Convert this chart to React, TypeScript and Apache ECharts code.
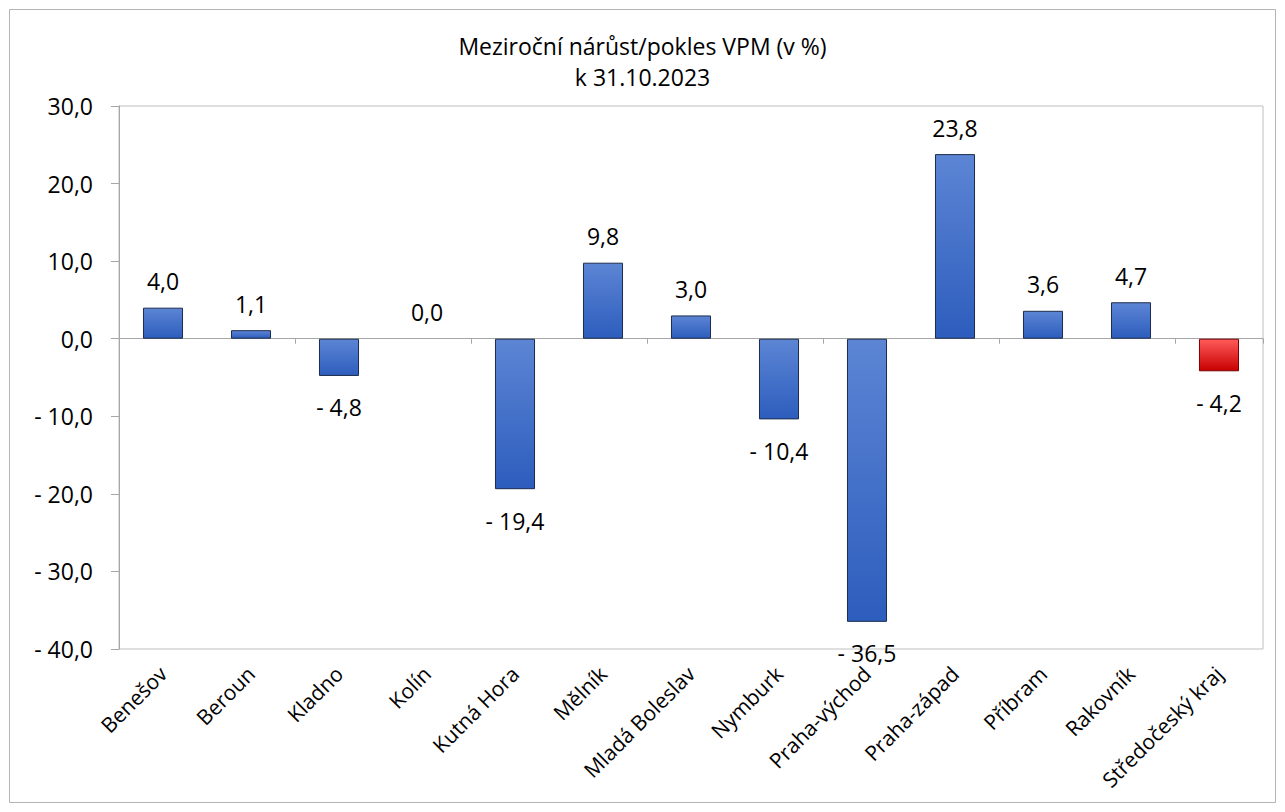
import React, { useEffect, useRef } from "react";
import * as echarts from "echarts";

const categories = [
  "Benešov", "Beroun", "Kladno", "Kolín", "Kutná Hora", "Mělník", "Mladá Boleslav",
  "Nymburk", "Praha-východ", "Praha-západ", "Příbram", "Rakovník", "Středočeský kraj",
];
const values = [4.0, 1.1, -4.8, 0.0, -19.4, 9.8, 3.0, -10.4, -36.5, 23.8, 3.6, 4.7, -4.2];
const highlighted = ["Středočeský kraj"];
const titleLines = ["Meziroční nárůst/pokles VPM (v %)", "k 31.10.2023"];

const FONT = "Open Sans";

const fmt = (v: number) => {
  const s = Math.abs(v).toFixed(1).replace(".", ",");
  return v < 0 ? "- " + s : s;
};

const blueGrad = new echarts.graphic.LinearGradient(0, 0, 0, 1, [
  { offset: 0, color: "#5C85D4" },
  { offset: 1, color: "#2D5DBD" },
]);
const redGrad = new echarts.graphic.LinearGradient(0, 0, 0, 1, [
  { offset: 0, color: "#FF5A5A" },
  { offset: 1, color: "#C80000" },
]);

export default function App() {
  const ref = useRef<HTMLDivElement>(null);
  useEffect(() => {
    document.body.style.margin = "0";
    const chart = echarts.init(ref.current!, null, { renderer: "svg" });
    const data = values.map((v, i) => {
      const hi = highlighted.includes(categories[i]);
      return {
        value: v,
        itemStyle: {
          color: hi ? redGrad : blueGrad,
          borderColor: hi ? "#7A0000" : "#1C2C4C",
          borderWidth: v === 0 ? 0 : 1,
        },
        label: v < 0 ? { position: "bottom", distance: 20 } : { position: "top", distance: 15 },
      };
    });
    chart.setOption({
      animation: false,
      textStyle: { fontFamily: FONT },
      title: {
        text: titleLines.join("\n"),
        left: "center",
        top: 25,
        textStyle: { fontFamily: FONT, fontSize: 23, fontWeight: "normal", color: "#000", lineHeight: 31 },
      },
      graphic: [
        {
          type: "rect",
          shape: { x: 9.5, y: 9.5, width: 1266, height: 793 },
          style: { fill: "none", stroke: "#B4B4B4", lineWidth: 1 },
          silent: true,
        },
      ],
      grid: {
        left: 119,
        top: 106,
        right: 22,
        bottom: 163,
        show: true,
        borderColor: "#BFBFBF",
        borderWidth: 1,
      },
      xAxis: [
        {
          type: "category",
          data: categories,
          position: "bottom",
          axisLine: { show: false, onZero: false },
          axisTick: { show: false },
          axisLabel: {
            rotate: 45,
            interval: 0,
            margin: 21,
            fontSize: 21,
            fontFamily: FONT,
            color: "#000",
          },
        },
        {
          type: "category",
          data: categories,
          position: "bottom",
          axisLine: { show: true, onZero: true, lineStyle: { color: "#A6A6A6", width: 1 } },
          axisTick: { show: true, length: 5, lineStyle: { color: "#A6A6A6" } },
          axisLabel: { show: false },
        },
      ],
      yAxis: {
        type: "value",
        min: -40,
        max: 30,
        interval: 10,
        axisLine: { show: true, lineStyle: { color: "#A6A6A6" } },
        axisTick: { show: true, length: 8, lineStyle: { color: "#A6A6A6" } },
        splitLine: { show: false },
        axisLabel: {
          formatter: (v: number) => fmt(v),
          fontSize: 23,
          fontFamily: FONT,
          color: "#000",
          margin: 26,
        },
      },
      series: [
        {
          type: "bar",
          xAxisIndex: 0,
          data,
          barWidth: "45.5%",
          label: {
            show: true,
            formatter: (p: any) => fmt(p.value),
            fontSize: 23,
            fontFamily: FONT,
            color: "#000",
          },
        },
      ],
    });
    return () => chart.dispose();
  }, []);
  return <div ref={ref} style={{ width: 1285, height: 812 }} />;
}
